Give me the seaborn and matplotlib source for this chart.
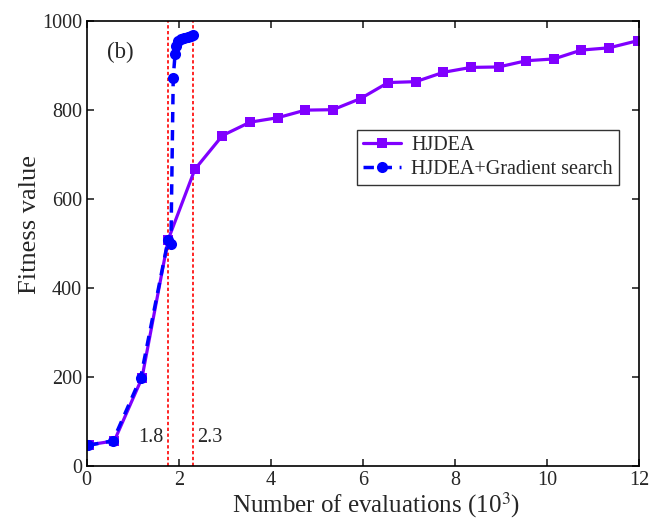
import matplotlib
matplotlib.use("Agg")
import matplotlib.pyplot as plt
import seaborn as sns
import pandas as pd

# HJDEA data
hjdea_x = [0.05, 0.6, 1.2, 1.77, 2.35, 2.95, 3.55, 4.15, 4.75, 5.35, 5.95, 6.55,
           7.15, 7.75, 8.35, 8.95, 9.55, 10.15, 10.75, 11.35, 11.97]
hjdea_y = [48, 57, 198, 509, 667, 743, 773, 783, 800, 801, 826, 862,
           864, 885, 896, 897, 911, 915, 935, 940, 956]

# HJDEA + Gradient search data
grad_x = [0.03, 0.57, 1.17, 1.77, 1.83, 1.88, 1.92, 1.95, 1.99, 2.05, 2.12, 2.19, 2.26, 2.31]
grad_y = [47, 57, 198, 509, 500, 873, 926, 943, 955, 960, 963, 965, 967, 968]

vlines = [1.77, 2.3]
vline_labels = ["1.8", "2.3"]

sns.set_theme(style="ticks")
plt.rcParams['font.family'] = ['Liberation Serif', 'DejaVu Serif']
plt.rcParams['mathtext.fontset'] = 'stix'

fig = plt.figure(figsize=(6.67, 5.28), dpi=100)
ax = fig.add_axes([0.130, 0.117, 0.828, 0.843])

df1 = pd.DataFrame({"x": hjdea_x, "y": hjdea_y})
df2 = pd.DataFrame({"x": grad_x, "y": grad_y})

sns.lineplot(data=df1, x="x", y="y", ax=ax, color="#8000FF", linewidth=2.3,
             marker="s", markersize=6.5, markeredgewidth=0, estimator=None,
             sort=False, label="HJDEA")
sns.lineplot(data=df2, x="x", y="y", ax=ax, color="#0000FF", linewidth=2.5,
             marker="o", markersize=8, markeredgewidth=0, estimator=None,
             sort=False, label="HJDEA+Gradient search", linestyle=(0, (3, 2.2)))

for v in vlines:
    ax.axvline(v, color="red", linestyle=(0, (2, 1.5)), linewidth=1.2, zorder=1)

ax.text(1.4, 65, vline_labels[0], fontsize=14.5, ha="center", va="center")
ax.text(2.68, 65, vline_labels[1], fontsize=14.5, ha="center", va="center")
ax.text(0.72, 930, "(b)", fontsize=16.5, ha="center", va="center")

ax.set_xlim(0, 12)
ax.set_ylim(0, 1000)
ax.set_xticks([0, 2, 4, 6, 8, 10, 12])
ax.set_yticks([0, 200, 400, 600, 800, 1000])
ax.tick_params(direction="in", top=True, right=True, labelsize=14.5, length=5, width=1.2)
for s in ax.spines.values():
    s.set_linewidth(1.2)
    s.set_color("black")

ax.set_xlabel("Number of evaluations (10$^3$)", fontsize=18)
ax.set_ylabel("Fitness value", fontsize=19)
ax.xaxis.set_label_coords(0.524, -0.055)
ax.yaxis.set_label_coords(-0.083, 0.542)

leg = ax.legend(loc="upper left", bbox_to_anchor=(0.489, 0.755), fontsize=14.5,
                frameon=True, fancybox=False, edgecolor="black", borderaxespad=0,
                handlelength=1.9, borderpad=0.3, labelspacing=0.25, handletextpad=0.5)
leg.get_frame().set_linewidth(1.0)

fig.savefig("out.png", dpi=100)
